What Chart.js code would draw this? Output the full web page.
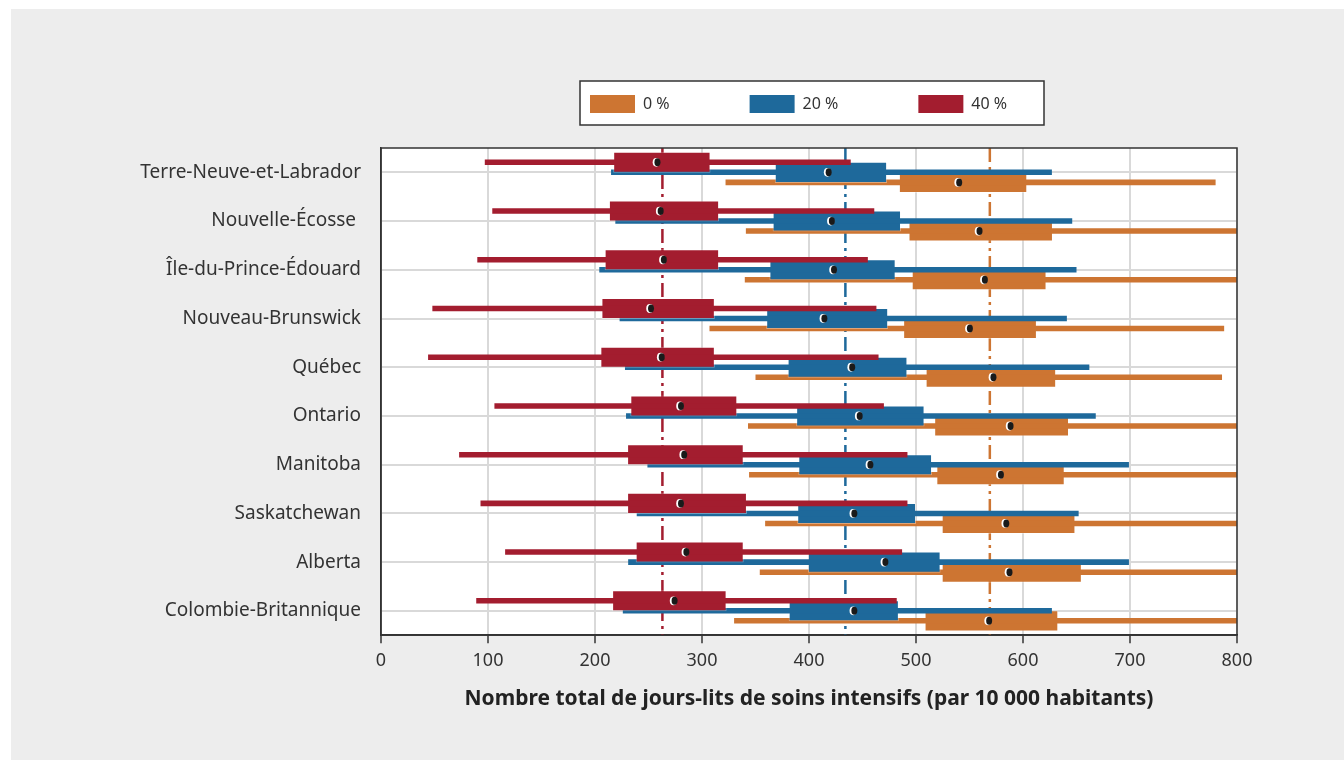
<!DOCTYPE html>
<html>
<head>
<meta charset="utf-8">
<script src="https://cdn.jsdelivr.net/npm/chart.js@4"></script>
<style>
  html, body { margin: 0; padding: 0; background: #fff; overflow: hidden; }
  #panel { position: absolute; left: 11px; top: 9px; width: 1333px; height: 751px; background: #ededed; }
  #chart { display: block; }
</style>
</head>
<body>
<div id="panel"><canvas id="chart" width="1333" height="751"></canvas></div>
<script>
const provinces = ["Terre-Neuve-et-Labrador", "Nouvelle-Écosse ", "Île-du-Prince-Édouard", "Nouveau-Brunswick",
  "Québec", "Ontario", "Manitoba", "Saskatchewan", "Alberta", "Colombie-Britannique"];

// 0 %
const min0 = [322, 341, 340, 307, 350, 343, 344, 359, 354, 330];
const q1_0 = [484, 493, 496, 488, 509, 517, 519, 524, 524, 508];
const med0 = [540, 559, 564, 550, 572, 588, 579, 584, 587, 568];
const q3_0 = [604, 628, 622, 613, 631, 643, 639, 649, 655, 633];
const max0 = [780, 800, 800, 788, 786, 800, 800, 800, 800, 800];

// 20 %
const min20 = [215, 219, 204, 223, 228, 229, 249, 239, 231, 226];
const q1_20 = [368, 366, 363, 360, 380, 388, 390, 389, 399, 381];
const med20 = [418, 421, 423, 414, 440, 447, 457, 442, 471, 442];
const q3_20 = [473, 486, 481, 474, 492, 508, 515, 500, 523, 484];
const max20 = [627, 646, 650, 641, 662, 668, 699, 652, 699, 627];

// 40 %
const min40 = [97, 104, 90, 48, 44, 106, 73, 93, 116, 89];
const q1_40 = [217, 213, 209, 206, 205, 233, 230, 230, 238, 216];
const med40 = [258, 261, 264, 252, 262, 280, 283, 280, 285, 274];
const q3_40 = [308, 316, 316, 312, 312, 333, 339, 342, 339, 323];
const max40 = [439, 461, 455, 463, 465, 470, 492, 492, 487, 482];

const seriesNames = ["0 %", "20 %", "40 %"];
const seriesColors = ["#cd7532", "#1e699b", "#a31d2f"];
const refLines = [569, 434, 263];

const FONT = "'Noto Sans', sans-serif";

function pairs(a, b) {
  return a.map((v, i) => [v, b[i]]);
}

function whisker(name, lo, hi, color, stack) {
  return { label: name + " whisker", data: pairs(lo, hi), backgroundColor: color,
    borderWidth: 0, barPercentage: 0.55, stack: stack };
}

function box(name, lo, hi, med, color, stack) {
  return { label: name, data: pairs(lo, hi), medians: med, backgroundColor: color,
    borderColor: "rgba(255,255,255,0.35)", borderWidth: 1, borderSkipped: false,
    barPercentage: 2.1, stack: stack };
}

// red on top slot, orange on bottom slot; dataset 0 drawn last
const datasets = [
  whisker(seriesNames[2], min40, max40, seriesColors[2], "s40"),
  box(seriesNames[2], q1_40, q3_40, med40, seriesColors[2], "s40"),
  whisker(seriesNames[1], min20, max20, seriesColors[1], "s20"),
  box(seriesNames[1], q1_20, q3_20, med20, seriesColors[1], "s20"),
  whisker(seriesNames[0], min0, max0, seriesColors[0], "s0"),
  box(seriesNames[0], q1_0, q3_0, med0, seriesColors[0], "s0")
];

const plotDecor = {
  id: "plotDecor",
  beforeInit(chart) {
    const fit = chart.legend.fit;
    chart.legend.fit = function () {
      fit.bind(chart.legend)();
      this.height += 25;
    };
  },
  beforeDraw(chart) {
    const { ctx, chartArea: a, legend: lg } = chart;
    ctx.save();
    ctx.fillStyle = "#fff";
    ctx.fillRect(a.left, a.top, a.right - a.left, a.bottom - a.top);
    // legend frame, items placed inside it
    const fx = (a.left + a.right) / 2 - 229;
    lg.left = fx + 10 - lg.options.labels.padding;
    ctx.fillRect(fx, lg.top + 66, 464, 44);
    ctx.strokeStyle = "#333";
    ctx.lineWidth = 1.5;
    ctx.strokeRect(fx, lg.top + 66, 464, 44);
    ctx.restore();
  },
  beforeDatasetsDraw(chart) {
    const { ctx, chartArea: a, scales: { x } } = chart;
    ctx.save();
    ctx.lineWidth = 2.5;
    ctx.setLineDash([14, 5, 3, 5]);
    refLines.forEach((v, i) => {
      const px = x.getPixelForValue(v);
      ctx.strokeStyle = seriesColors[i];
      ctx.beginPath();
      ctx.moveTo(px, a.top);
      ctx.lineTo(px, a.bottom);
      ctx.stroke();
    });
    ctx.restore();
  },
  afterDatasetsDraw(chart) {
    const { ctx, chartArea: a, scales: { x } } = chart;
    ctx.save();
    chart.data.datasets.forEach((ds, i) => {
      if (!ds.medians) return;
      chart.getDatasetMeta(i).data.forEach((bar, j) => {
        const px = x.getPixelForValue(ds.medians[j]);
        ctx.fillStyle = "#fff";
        ctx.beginPath();
        ctx.ellipse(px - 0.8, bar.y, 3.6, 4.4, 0, 0, Math.PI * 2);
        ctx.fill();
        ctx.fillStyle = "#1a1a1a";
        ctx.beginPath();
        ctx.ellipse(px + 0.4, bar.y, 3, 4, 0, 0, Math.PI * 2);
        ctx.fill();
      });
    });
    ctx.strokeStyle = "#333";
    ctx.lineWidth = 1.5;
    ctx.strokeRect(a.left, a.top, a.right - a.left, a.bottom - a.top);
    ctx.restore();
  }
};

new Chart(document.getElementById("chart"), {
  type: "bar",
  data: { labels: provinces, datasets: datasets },
  plugins: [plotDecor],
  options: {
    indexAxis: "y",
    responsive: false,
    animation: false,
    devicePixelRatio: 1,
    categoryPercentage: 0.617,
    layout: { padding: { left: 0, right: 107, top: 6, bottom: 48 } },
    plugins: {
      tooltip: { enabled: false },
      legend: {
        position: "top",
        align: "start",
        labels: {
          boxWidth: 45,
          boxHeight: 18,
          padding: 80,
          color: "#333",
          font: { family: FONT, size: 16 },
          generateLabels: () => seriesNames.map((n, i) => ({
            text: n, fillStyle: seriesColors[i], strokeStyle: seriesColors[i],
            lineWidth: 0, hidden: false, fontColor: "#333"
          }))
        }
      }
    },
    scales: {
      x: {
        min: 0,
        max: 800,
        stacked: false,
        ticks: { stepSize: 100, color: "#333", padding: 7, font: { family: FONT, size: 18 } },
        grid: { color: "#d9d9d9", lineWidth: 2, tickColor: "#333", tickLength: 8, tickWidth: 1.5 },
        border: { display: true, color: "#333", width: 1.5 },
        title: {
          display: true,
          text: "Nombre total de jours-lits de soins intensifs (par 10 000 habitants)",
          color: "#222",
          font: { family: FONT, size: 21, weight: "bold" },
          padding: { top: 8, bottom: 0 }
        }
      },
      y: {
        grid: { offset: false, color: "#d9d9d9", lineWidth: 2, drawTicks: false },
        border: { display: true, color: "#333", width: 1.5 },
        ticks: { color: "#333", padding: 20, font: { family: FONT, size: 19 } },
        afterFit: (s) => { s.width = 370; }
      }
    }
  }
});
</script>
</body>
</html>
